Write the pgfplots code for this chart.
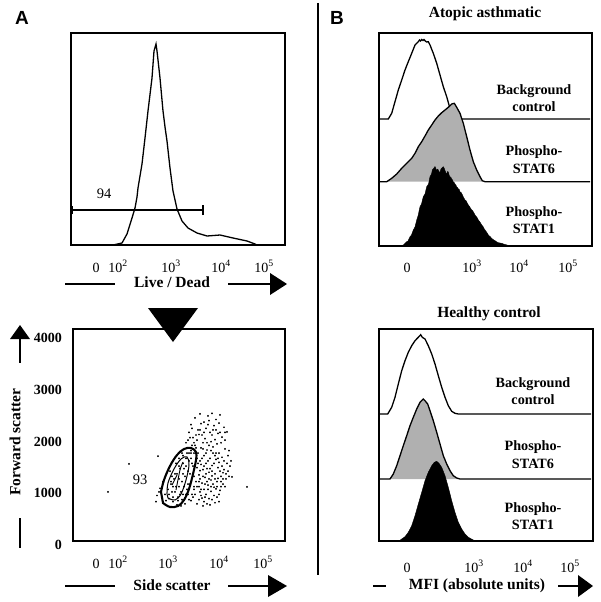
\documentclass[border=0pt]{standalone}
\usepackage{pgfplots}
\pgfplotsset{compat=1.18}
\usepackage{fontspec}
\setmainfont{Liberation Serif}
\newfontfamily\arialfont{Liberation Sans}

\definecolor{histgray}{RGB}{176,176,176}

% text sizes
\newcommand{\lab}{\fontsize{15.5}{18}\selectfont\bfseries}
\newcommand{\side}{\fontsize{14.2}{17.5}\selectfont\bfseries}
\newcommand{\tlab}{\fontsize{14}{16}\selectfont}

\pgfplotsset{
  flow/.style={
    anchor=south west, scale only axis,
    axis line style={line width=1.4pt},
    ytick=\empty, major tick length=0pt,
    xticklabel style={anchor=base, font=\tlab, inner sep=0pt},
  },
  hist/.style={line width=1.3pt, black},
}

\begin{document}
\begin{tikzpicture}
\useasboundingbox (0pt,0pt) rectangle (600pt,-602pt);

% ---------------- panel A, top: live/dead histogram
\begin{axis}[flow, at={(71pt,-245pt)}, width=214pt, height=212pt,
  xmin=0, xmax=214, ymin=0, ymax=212,
  xtick={25,47,100,150,193},
  xticklabels={0,10\textsuperscript{2},10\textsuperscript{3},10\textsuperscript{4},10\textsuperscript{5}},
  xticklabel style={yshift=-27pt}]
\addplot[hist] coordinates {
  (0,0) (42,0) (51,2) (56,11) (61,27) (64,37) (66,48) (67,57) (71,81)
  (74,107) (77,134) (81,167) (83,194) (85,201) (86,194) (89,167)
  (92,134) (94,118) (96,104) (99,77) (102,54) (106,36) (111,24)
  (117,17) (126,12) (136,9) (149,10) (162,7) (176,4) (184,1) (186,0) (214,0)
};
\draw[line width=1.3pt] (axis cs:0,35) -- (axis cs:132,35);
\draw[line width=1.3pt] (axis cs:132,30) -- (axis cs:132,40);
\draw[line width=1.3pt] (axis cs:1.5,31) -- (axis cs:1.5,39);
\node[font=\fontsize{14.5}{16}\selectfont] at (axis cs:33,51) {94};
\end{axis}

% ---------------- panel A, bottom: side vs forward scatter
\begin{axis}[flow, at={(73pt,-541pt)}, width=212pt, height=212pt,
  xmin=0, xmax=212, ymin=0, ymax=4100,
  xtick={23,45,95,146,190},
  xticklabels={0,10\textsuperscript{2},10\textsuperscript{3},10\textsuperscript{4},10\textsuperscript{5}},
  xticklabel style={yshift=-27pt},
  ytick={0,1000,2000,3000,4000},
  yticklabels={0,1000,2000,3000,4000},
  yticklabel style={anchor=east, inner sep=0pt, xshift=-11pt, yshift=-4pt,
    font=\fontsize{14}{16}\selectfont\bfseries}]
\addplot[only marks, mark=*, mark size=0.7pt, black] coordinates {
  (118,2250) (122,2380) (127,2460) (131,2300) (135,2420) (139,2470) (143,2350)
  (147,2440) (151,2200) (125,2150) (129,2050) (133,2180) (137,2100) (141,2230)
  (145,2080) (149,2010) (120,2000) (116,2100) (124,1950) (132,1980) (138,1920)
  (144,1880) (152,1950) (113,1900) (128,2270) (136,2330) (140,2150) (146,2280)
  (119,2180) (126,2060)
  (122,1850) (128,1800) (134,1760) (140,1820) (146,1700) (152,1780) (155,1650)
  (125,1700) (131,1650) (137,1600) (143,1580) (149,1620) (154,1500) (127,1550)
  (133,1500) (139,1460) (145,1420) (151,1380) (157,1450) (124,1420) (130,1380)
  (136,1330) (142,1300) (148,1250) (153,1200) (126,1280) (132,1230) (138,1180)
  (144,1150) (150,1100) (129,1120) (135,1080) (141,1040) (147,980) (123,1150)
  (134,1400) (140,1700) (128,1480) (146,1520) (150,1320) (124,1600) (130,1900)
  (136,1850) (142,1960) (127,1360) (133,1300) (139,1260) (145,1210) (131,1000)
  (115,900) (120,850) (126,800) (131,760) (136,820) (141,880) (146,760)
  (121,1000) (127,950) (133,900) (138,960) (143,1010) (118,780) (124,720)
  (130,680) (137,700) (142,740) (112,830) (108,950) (135,1000) (128,880)
  (117,1300) (119,1500) (121,1700) (123,1800) (125,1500) (127,1200) (129,1600)
  (131,1450) (133,1700) (135,1550) (137,1400) (139,1350) (141,1500) (143,1700)
  (145,1600) (147,1350) (149,1450) (151,1550) (153,1300) (155,1350) (126,1050)
  (128,1000) (130,1250) (132,1100) (134,1150) (136,1200) (138,1050) (140,1100)
  (142,1200) (144,1050) (146,900) (148,1150) (150,1200) (152,1050) (122,900)
  (124,1050) (126,1150) (129,830) (132,850) (134,720) (139,800) (144,850)
  (148,1050) (121,1900) (123,2050) (127,2150) (131,2100) (135,2250) (139,2050)
  (143,2150) (147,2100) (130,1780) (134,1900) (138,1750) (142,1650) (148,1900)
  (152,2100) (156,1750) (156,1250) (158,1550) (117,2000) (115,1950) (118,1750)
  (92,900) (95,1000) (98,1100) (101,1200) (104,1300) (107,1400) (110,1500)
  (113,1600) (116,1700) (96,820) (100,760) (104,700) (108,680) (112,720)
  (116,800) (119,900) (121,1050) (121,1250) (120,1450) (118,1600) (102,950)
  (106,1050) (109,1150) (112,1250) (115,1350) (105,850) (110,900) (114,1000)
  (117,1100) (100,1050) (93,780) (89,850) (86,950) (90,1150) (97,1350)
  (103,1500) (109,1700) (114,1800) (119,1850) (99,1250) (106,1600) (111,1400)
  (96,900) (99,950) (103,1050) (106,1200) (110,1300) (113,1450) (116,1550)
  (118,1700) (100,850) (105,780) (109,800) (113,900) (115,1100) (111,1050)
  (107,900) (98,1150) (102,1300) (106,1450) (110,1650) (114,1700)
  (84,880) (87,1020) (83,760)
  (35,950) (56,1490) (85,1640) (159,1240) (174,1045) (154,2110)
};
% density contours
\addplot[line width=2.1pt, smooth, tension=0.6] coordinates {
  (90,735) (97,658) (105,677) (111,793) (116,1006) (120,1296) (123,1567)
  (123,1721) (118,1799) (111,1779) (104,1663) (97,1450) (91,1180) (88,948)
} -- cycle;
\addplot[line width=1.0pt, smooth, tension=0.6] coordinates {
  (95,832) (102,793) (108,909) (113,1180) (116,1470) (114,1625) (108,1586)
  (101,1392) (95,1122) (94,909)
} -- cycle;
\addplot[line width=0.9pt, smooth] coordinates {(103,986) (107,1373) (110,1528)};
\addplot[line width=0.9pt, smooth] coordinates {(99,1083) (104,1276)};
\node[font=\fontsize{14.5}{16}\selectfont] at (axis cs:67,1180) {93};
\end{axis}

% ---------------- panel B, top: atopic asthmatic
\begin{axis}[flow, at={(379pt,-246pt)}, width=213pt, height=213pt,
  xmin=0, xmax=213, ymin=0, ymax=213,
  xtick={28,93,140,189},
  xticklabels={0,10\textsuperscript{3},10\textsuperscript{4},10\textsuperscript{5}},
  xticklabel style={yshift=-26pt}]
\addplot[hist] coordinates {
  (0,127) (9.3,127) (12.7,132.7) (16,144.3) (19.3,156) (22.7,166) (26,176)
  (29.3,184.3) (32.7,192.7) (36,201) (38,203) (39.3,204.3) (40.5,206)
  (41.5,205) (42.7,206.5) (44,205.5) (45,206.5) (46,205.3) (47.5,204)
  (49.3,204.3) (51,201) (54.3,192.7) (57.7,182.7) (61,171) (64.3,159.3)
  (67.7,149.3) (70,141) (74.3,131) (78.7,127) (211,127)
};
\addplot[fill=histgray, draw=none] coordinates {
  (7.7,64.3) (12.7,67.7) (17.7,72) (22.7,77.7) (27.7,82.7) (32.7,87.7)
  (36,92.7) (39.3,99.3) (42.7,104.3) (46,110) (49.3,116) (52.7,121) (56,126)
  (59.3,130) (62.7,133.3) (66,136) (69.3,138.7) (72.7,142) (75.3,142.7)
  (77.7,138.7) (81,132.7) (84.3,122.7) (87.7,109.3) (91,96) (94.3,84.3)
  (97.7,76) (101,69.3) (103.3,65.3) (106,64.3)
} -- cycle;
\addplot[hist] coordinates {
  (0,64.3) (7.7,64.3) (12.7,67.7) (17.7,72) (22.7,77.7) (27.7,82.7) (32.7,87.7)
  (36,92.7) (39.3,99.3) (42.7,104.3) (46,110) (49.3,116) (52.7,121) (56,126)
  (59.3,130) (62.7,133.3) (66,136) (69.3,138.7) (72.7,142) (75.3,142.7)
  (77.7,138.7) (81,132.7) (84.3,122.7) (87.7,109.3) (91,96) (94.3,84.3)
  (97.7,76) (101,69.3) (103.3,65.3) (106,64.3) (211,64.3)
};
\addplot[fill=black, draw=black, line width=0.4pt] coordinates {
  (21,0) (24.3,1) (27.7,4.3) (29,5) (31,9.3) (32.5,11) (34.3,16) (36,19)
  (37.7,26) (39,30) (41,39.3) (42.5,42) (44.3,49.3) (46,52) (47.7,59.3)
  (49.5,62) (51,69.3) (52.5,72) (53.3,76) (55,78) (56,79.5) (57,77)
  (57.7,75.5) (58.5,76.8) (59.3,76) (60.3,73.5) (61,74) (62,77) (63,78)
  (64.3,79.3) (65.3,77.5) (66,75.5) (67,73) (67.7,72) (68.6,74.5) (69.3,74)
  (70.2,70.5) (71,69.3) (72,68.5) (72.7,66.8) (73.5,66) (74.3,64) (75.2,63.5)
  (76,62) (77,60.8) (77.7,59) (78.5,58.5) (79.3,57) (80.2,56.6) (81,54)
  (81.8,54) (82.7,52.5) (83.5,51) (84.3,49) (85.2,47.5) (86,46) (86.9,45.5)
  (87.7,44) (88.5,42.5) (89.3,41) (90.5,39.5) (91.5,37.8) (92.7,36) (93.8,35)
  (95,33) (96,31) (97.2,29.5) (98.3,28) (99.3,26) (100.5,24.5) (101.6,23)
  (102.7,21) (104,19.5) (105,17.5) (106,16) (107.5,14) (108.5,12.5)
  (109.3,11) (111,9.5) (112.7,7.7) (114,6.5) (116,5.3) (118,4) (119.3,3.3)
  (121,3) (122.7,2.7) (125,1.8) (128,1) (131,0)
} -- cycle;
\end{axis}

% ---------------- panel B, bottom: healthy control
\begin{axis}[flow, at={(379pt,-541pt)}, width=214pt, height=212pt,
  xmin=0, xmax=214, ymin=0, ymax=212,
  xtick={28,95,144,191},
  xticklabels={0,10\textsuperscript{3},10\textsuperscript{4},10\textsuperscript{5}},
  xticklabel style={yshift=-31pt}]
\addplot[hist] coordinates {
  (0,127) (8.7,127) (12.7,133.7) (16,143.7) (19.3,157) (22.7,170.3) (26,180.3)
  (29.3,188.7) (32.7,195.3) (36,200.3) (39.3,203.7) (40.5,205) (41.7,206.3)
  (43.3,203.7) (46,202) (49.3,195.3) (52.7,187) (56,177) (59.3,165.3)
  (62.7,153.7) (66,143.7) (69.3,135.3) (72.7,129.7) (76,127.7) (79.3,127)
  (212,127)
};
\addplot[fill=histgray, draw=none] coordinates {
  (11,62) (14.3,67) (17.7,75.3) (21,85.3) (24.3,95.3) (27.7,105.3) (31,115.3)
  (34.3,123.7) (37.7,132) (41,138.7) (44.3,142) (46,140.3) (48.7,137) (51,130.3)
  (54.3,120.3) (57.7,108.7) (61,97) (64.3,85.3) (67.7,77) (71,70.3) (74.3,65.3)
  (77.7,63) (81,62)
} -- cycle;
\addplot[hist] coordinates {
  (0,62) (11,62) (14.3,67) (17.7,75.3) (21,85.3) (24.3,95.3) (27.7,105.3)
  (31,115.3) (34.3,123.7) (37.7,132) (41,138.7) (44.3,142) (46,140.3)
  (48.7,137) (51,130.3) (54.3,120.3) (57.7,108.7) (61,97) (64.3,85.3)
  (67.7,77) (71,70.3) (74.3,65.3) (77.7,63) (81,62) (212,62)
};
\addplot[fill=black, draw=black, line width=0.4pt] coordinates {
  (20,0) (22.7,2) (26,4.3) (29.3,8.7) (32.7,15.3) (36,25.3) (39.3,37)
  (42.7,48.7) (46,60.3) (49.3,68.7) (52.7,75.3) (55.3,78.7) (57.7,79.7)
  (60,77.7) (62.7,73.7) (66,65.3) (69.3,53.7) (72.7,40.3) (76,28.7)
  (79.3,18.7) (82.7,12) (86,7) (89.3,3.7) (94.3,1) (97,0)
} -- cycle;
\end{axis}

% ---------------- annotations outside the axes
\node[font={\fontsize{19}{21}\arialfont\bfseries}] at (22pt,-18pt) {A};
\node[font={\fontsize{19}{21}\arialfont\bfseries}] at (337pt,-18pt) {B};
\draw[line width=1.9pt] (318pt,-3pt) -- (318pt,-575pt);

% live / dead axis title
\node[font=\lab] at (172pt,-282pt) {Live / Dead};
\draw[line width=1.3pt] (65pt,-284pt) -- (115pt,-284pt);
\draw[line width=1.3pt] (228pt,-284pt) -- (272pt,-284pt);
\fill (270pt,-273pt) -- (287pt,-284pt) -- (270pt,-295pt) -- cycle;

% gating arrow
\fill (148pt,-308pt) -- (198pt,-308pt) -- (173pt,-342pt) -- cycle;

% side scatter
\node[font=\lab] at (172pt,-585pt) {Side scatter};
\draw[line width=1.3pt] (65pt,-586pt) -- (115pt,-586pt);
\draw[line width=1.3pt] (228pt,-586pt) -- (270pt,-586pt);
\fill (268pt,-575pt) -- (287pt,-586pt) -- (268pt,-597pt) -- cycle;

% forward scatter
\node[font=\lab, rotate=90] at (15pt,-442pt) {Forward scatter};
\fill (20pt,-325pt) -- (30pt,-339pt) -- (10pt,-339pt) -- cycle;
\draw[line width=1.3pt] (20pt,-338pt) -- (20pt,-363pt);
\draw[line width=1.3pt] (20pt,-518pt) -- (20pt,-548pt);

% panel B titles and lane labels
\node[font=\lab] at (485pt,-14pt) {Atopic asthmatic};
\node[font=\lab] at (489pt,-314pt) {Healthy control};
\node[font=\side, align=center] at (534pt,-98pt) {Background\\control};
\node[font=\side, align=center] at (534pt,-159.5pt) {Phospho-\\STAT6};
\node[font=\side, align=center] at (534pt,-220pt) {Phospho-\\STAT1};
\node[font=\side, align=center] at (533pt,-391pt) {Background\\control};
\node[font=\side, align=center] at (533pt,-454.5pt) {Phospho-\\STAT6};
\node[font=\side, align=center] at (533pt,-516pt) {Phospho-\\STAT1};

% MFI axis title
\node[font=\lab] at (477pt,-586pt) {MFI (absolute units)};
\draw[line width=1.3pt] (373pt,-586pt) -- (386pt,-586pt);
\draw[line width=1.3pt] (558pt,-586pt) -- (580pt,-586pt);
\fill (578pt,-575pt) -- (593pt,-586pt) -- (578pt,-597pt) -- cycle;
\end{tikzpicture}
\end{document}
